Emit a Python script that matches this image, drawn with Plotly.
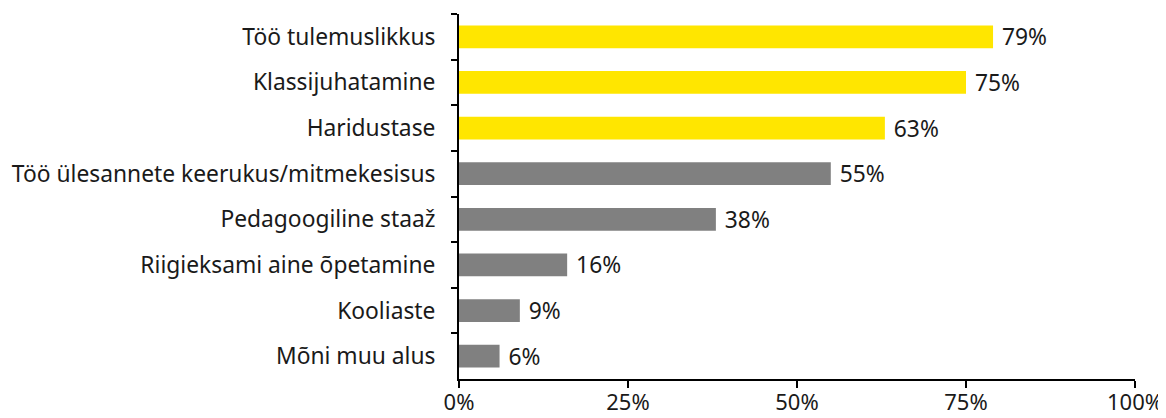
import plotly.graph_objects as go

# categories top to bottom
categories = [
    "Töö tulemuslikkus",
    "Klassijuhatamine",
    "Haridustase",
    "Töö ülesannete keerukus/mitmekesisus",
    "Pedagoogiline staaž",
    "Riigieksami aine õpetamine",
    "Kooliaste",
    "Mõni muu alus",
]
values = [0.79, 0.75, 0.63, 0.55, 0.38, 0.16, 0.09, 0.06]
highlight = [True, True, True, False, False, False, False, False]

YELLOW = "#FFE600"
GREY = "#808080"
FONT = "Noto Sans, Open Sans, sans-serif"
FS = 22.8

bar_colors = [YELLOW if h else GREY for h in highlight]
labels = [f" {round(v * 100)}%" for v in values]

fig = go.Figure(
    go.Bar(
        x=values,
        y=categories,
        orientation="h",
        marker=dict(color=bar_colors, line=dict(width=0)),
        width=0.5,
        text=labels,
        textposition="outside",
        constraintext="none",
        textfont=dict(size=FS, color="#1a1a1a", family=FONT),
        cliponaxis=False,
    )
)

fig.update_xaxes(
    range=[0, 1],
    tickvals=[0, 0.25, 0.5, 0.75, 1.0],
    ticktext=["0%", "25%", "50%", "75%", "100%"],
    showgrid=False,
    zeroline=False,
    showline=True,
    linecolor="#000",
    linewidth=2,
    ticks="outside",
    ticklen=7,
    tickwidth=2,
    tickcolor="#000",
    ticklabelstandoff=-4,
    automargin=False,
    tickfont=dict(size=22, color="#1a1a1a", family=FONT),
)
fig.update_yaxes(
    autorange="reversed",
    showgrid=False,
    showline=True,
    linecolor="#000",
    linewidth=2,
    ticks="outside",
    tickson="boundaries",
    ticklen=6,
    tickwidth=2,
    tickcolor="#000",
    ticklabelstandoff=17,
    automargin=False,
    tickfont=dict(size=FS, color="#1a1a1a", family=FONT),
)

# page body has an 8px default margin, so the figure is 8px smaller
fig.update_layout(
    width=1158,
    height=410,
    margin=dict(l=451, r=31, t=6, b=39, autoexpand=False),
    plot_bgcolor="white",
    paper_bgcolor="white",
    showlegend=False,
)

fig.write_html("out.html")
